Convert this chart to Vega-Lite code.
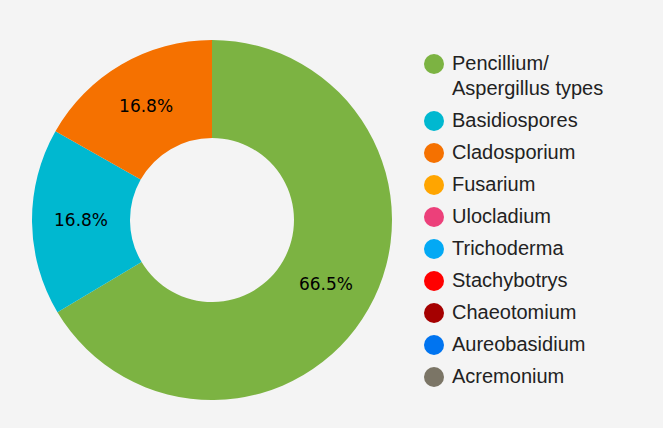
{
  "$schema": "https://vega.github.io/schema/vega-lite/v6.json",
  "autosize": {"type": "none"},
  "width": 424,
  "height": 416,
  "padding": {"left": 0, "top": 12, "right": 239, "bottom": 0},
  "background": "#f4f4f4",
  "view": {"stroke": null},
  "data": {
    "values": [
      {"name": "Pencillium/ Aspergillus types", "value": 66.5, "idx": 1, "pct": "66.5%"},
      {"name": "Basidiospores", "value": 16.8, "idx": 2, "pct": "16.8%"},
      {"name": "Cladosporium", "value": 16.8, "idx": 3, "pct": "16.8%"},
      {"name": "Fusarium", "value": 0, "idx": 4, "pct": "0%"},
      {"name": "Ulocladium", "value": 0, "idx": 5, "pct": "0%"},
      {"name": "Trichoderma", "value": 0, "idx": 6, "pct": "0%"},
      {"name": "Stachybotrys", "value": 0, "idx": 7, "pct": "0%"},
      {"name": "Chaeotomium", "value": 0, "idx": 8, "pct": "0%"},
      {"name": "Aureobasidium", "value": 0, "idx": 9, "pct": "0%"},
      {"name": "Acremonium", "value": 0, "idx": 10, "pct": "0%"}
    ]
  },
  "encoding": {
    "theta": {"field": "value", "type": "quantitative", "stack": true},
    "order": {"field": "idx", "type": "quantitative"}
  },
  "layer": [
    {
      "mark": {"type": "arc", "innerRadius": 82, "outerRadius": 180},
      "encoding": {
        "color": {
          "field": "name",
          "type": "nominal",
          "sort": null,
          "scale": {
            "domain": ["Pencillium/ Aspergillus types", "Basidiospores", "Cladosporium", "Fusarium", "Ulocladium", "Trichoderma", "Stachybotrys", "Chaeotomium", "Aureobasidium", "Acremonium"],
            "range": ["#7cb342", "#00b8d0", "#f57100", "#ffa500", "#ec407a", "#03a9f4", "#ff0000", "#a50000", "#0074f0", "#7b7566"]
          },
          "legend": {
            "title": null,
            "orient": "none",
            "legendX": 424,
            "legendY": 42,
            "padding": 0,
            "symbolType": "circle",
            "symbolSize": 400,
            "symbolStrokeWidth": 0,
            "symbolOpacity": 1,
            "labelOffset": 8,
            "rowPadding": 12,
            "labelFont": "Liberation Sans",
            "labelFontSize": 20,
            "labelColor": "#222222",
            "labelLimit": 300,
            "labelExpr": "datum.label == 'Pencillium/ Aspergillus types' ? ['Pencillium/', 'Aspergillus types'] : datum.label",
            "encode": {"labels": {"update": {"lineHeight": {"value": 25}}}}
          }
        }
      }
    },
    {
      "transform": [{"filter": "datum.value > 0"}],
      "mark": {"type": "text", "radius": 131, "font": "DejaVu Sans", "fontSize": 17, "color": "#000000"},
      "encoding": {"text": {"field": "pct", "type": "nominal"}}
    }
  ]
}
